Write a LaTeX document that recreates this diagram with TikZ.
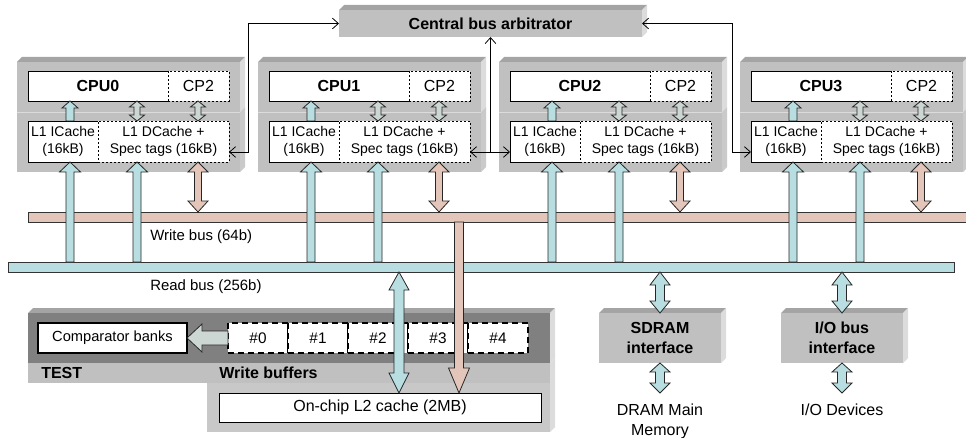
\documentclass[tikz,border=0pt]{standalone}
\usepackage{fontspec}
\setmainfont{Liberation Sans}
\usetikzlibrary{arrows.meta,calc}
\definecolor{rdc}{HTML}{B8DEE1}
\definecolor{wrc}{HTML}{E3C6B9}
\definecolor{gac}{HTML}{CCD6D2}
\definecolor{pnl}{HTML}{C0C0C0}
\definecolor{pnltop}{HTML}{A4A4A4}
\definecolor{pnlside}{HTML}{DCDCDC}
\definecolor{drk}{HTML}{808080}
\definecolor{pnlb}{HTML}{C8C8C8}

% box node from pixel corners: name, x0, y0, x1, y1, style, text
\newcommand\bx[7]{\node[#6,anchor=north west,inner sep=0pt,outer sep=0pt,
  minimum width={((#4)-(#2))*0.75pt},minimum height={((#5)-(#3))*0.75pt}] (#1) at (#2,#3) {#7};}
% 3d slab: name, x0, y0, x1, y1, fill, style, text
\newcommand\slab[8]{%
  \fill[pnltop] (#2,#3) -- (#2+5,#3-5) -- (#4+5,#3-5) -- (#4,#3) -- cycle;
  \fill[pnlside] (#4,#3) -- (#4+5,#3-5) -- (#4+5,#5-5) -- (#4,#5) -- cycle;
  \bx{#1}{#2}{#3}{#4}{#5}{fill=#6,#7}{#8}}
% vertical fat arrow: style, top point, bottom point, shaft half, top head half, top head len, bottom head half, bottom head len
\newcommand\fatv[8]{%
  \draw[#1] let \p1=#2, \p2=#3 in
   (\x1,\y1) -- (\x1+#5*0.75pt,\y1-#6*0.75pt) -- (\x1+#4*0.75pt,\y1-#6*0.75pt)
   -- (\x1+#4*0.75pt,\y2+#8*0.75pt) -- (\x1+#7*0.75pt,\y2+#8*0.75pt) -- (\x1,\y2)
   -- (\x1-#7*0.75pt,\y2+#8*0.75pt) -- (\x1-#4*0.75pt,\y2+#8*0.75pt)
   -- (\x1-#4*0.75pt,\y1-#6*0.75pt) -- (\x1-#5*0.75pt,\y1-#6*0.75pt) -- cycle;}

\begin{document}
\begin{tikzpicture}[x=0.75pt,y=-0.75pt,
  >={Straight Barb[length=4.5pt,width=8pt]},
  bigtxt/.style={font=\fontsize{12}{15}\selectfont},
  boldtxt/.style={font=\fontsize{12}{15}\selectfont\bfseries},
  cachetxt/.style={font=\fontsize{10.5}{12.75}\selectfont,align=center},
  busbar/.style={draw=black!80,line width=0.6pt},
  fatc/.style={fill=rdc,draw=black!85,line width=0.6pt},
  fatp/.style={fill=wrc,draw=black!85,line width=0.6pt},
  fatg/.style={fill=gac,draw=black!85,line width=0.6pt},
  thinbox/.style={fill=white,line width=0.6pt},
  dashbox/.style={fill=white,draw,line width=0.6pt,dash pattern=on 1.5pt off 1.5pt},
  wire/.style={line width=0.6pt}]
\useasboundingbox (0,0) rectangle (966,438);

% ---------- central arbitrator ----------
\slab{arb}{339}{10}{642}{37}{pnl}{boldtxt}{Central bus arbitrator}

% ---------- CPU clusters ----------
\foreach \i/\L in {0/17,1/258,2/499,3/740}{
  \fill[pnltop] (\L,62) -- (\L+5,57) -- (\L+228,57) -- (\L+223,62) -- cycle;
  \fill[pnlside] (\L+223,62) -- (\L+228,57) -- (\L+228,107) -- (\L+223,112) -- cycle;
  \fill[pnlside!92!black] (\L+223,112) -- (\L+228,107) -- (\L+228,167) -- (\L+223,172) -- cycle;
  \bx{cpup\i}{\L}{62}{\L+223}{172}{fill=pnl}{}
  \draw[pnlside,line width=0.6pt] (\L,112) -- (\L+223,112);
  \bx{cpu\i}{\L+11}{71}{\L+151}{101}{thinbox,boldtxt}{CPU\i}
  \draw[line width=0.6pt] (cpu\i.north east) -- (cpu\i.north west) -- (cpu\i.south west) -- (cpu\i.south east);
  \bx{cp\i}{\L+151}{71}{\L+212}{101}{dashbox,bigtxt}{CP2}
  \bx{ic\i}{\L+11}{121}{\L+81}{162}{thinbox,cachetxt}{L1 ICache\\(16kB)}
  \draw[line width=0.6pt] (ic\i.north east) -- (ic\i.north west) -- (ic\i.south west) -- (ic\i.south east);
  \bx{dc\i}{\L+81}{121}{\L+212}{162}{dashbox,cachetxt}{L1 DCache +\\Spec tags (16kB)}
  \coordinate (ia\i) at ($(ic\i.south west)+(42,0)$);
  \coordinate (da\i) at ($(dc\i.south west)+(39,0)$);
  \coordinate (pa\i) at ($(dc\i.south west)+(100,0)$);
}

% ---------- write buffers / TEST / L2 ----------
\slab{wbp}{28}{313}{550}{363}{drk}{}{}
\fill[pnlside] (550,363) -- (555,358) -- (555,427) -- (550,432) -- cycle;
\bx{tests}{28}{363}{207}{383}{fill=pnl}{}
\bx{wbs}{207}{363}{550}{383}{fill=pnl}{}
\bx{l2p}{207}{383}{550}{432}{fill=pnlb}{}
\node[anchor=west,boldtxt,inner sep=0pt] (testlab) at (41,373) {TEST};
\node[anchor=west,boldtxt,inner sep=0pt] (wblab) at (219,373) {Write buffers};
\bx{cmp}{38}{323}{187}{353}{draw,fill=white,line width=1.3pt,font=\fontsize{11}{13}\selectfont}{Comparator banks}
\foreach \k/\xx in {0/228,1/288,2/348,3/408,4/468}{
  \bx{b\k}{\xx}{323}{\xx+60}{353}{draw,fill=white,line width=1.4pt,dash pattern=on 4.5pt off 3pt,font=\fontsize{11.5}{13}\selectfont}{\#\k}
}
\draw[fatg] let \p1=(cmp.east), \p2=(b0.west) in
  (\x1,\y1) -- (\x1+11.25pt,\y1+10.5pt) -- (\x1+11.25pt,\y1+5.25pt) -- (\x2,\y1+5.25pt)
  -- (\x2,\y1-5.25pt) -- (\x1+11.25pt,\y1-5.25pt) -- (\x1+11.25pt,\y1-10.5pt) -- cycle;
\bx{l2}{219}{393}{541}{422}{draw,fill=white,line width=0.6pt,bigtxt}{On-chip L2 cache (2MB)}

% ---------- SDRAM and I/O ----------
\slab{sdram}{599}{313}{721}{363}{pnl}{boldtxt,align=center}{SDRAM\\interface}
\slab{iob}{781}{313}{903}{363}{pnl}{boldtxt,align=center}{I/O bus\\interface}
\node[anchor=north,bigtxt,align=center,inner xsep=0pt,inner ysep=8pt] (dram) at (660,393) {DRAM Main\\Memory};
\node[anchor=north,bigtxt,align=center,inner xsep=0pt,inner ysep=8pt] (iodev) at (842,393) {I/O Devices};

% ---------- buses ----------
\bx{wbus}{28}{212}{968}{222}{busbar,fill=wrc}{}
\bx{rbus}{8}{262}{954}{272}{busbar,fill=rdc}{}
\node[anchor=west,inner sep=0pt,font=\fontsize{11.2}{13}\selectfont] (wlab) at (150,237) {Write bus (64b)};
\node[anchor=west,inner sep=0pt,font=\fontsize{11.2}{13}\selectfont] (rlab) at (150,287) {Read bus (256b)};

% ---------- fat arrows ----------
\foreach \i in {0,1,2,3}{
  \fatv{fatc}{(ia\i)}{(ia\i |- rbus.north)}{4}{10.5}{10}{4}{0}
  \fatv{fatc}{(da\i)}{(da\i |- rbus.north)}{4}{10.5}{10}{4}{0}
  \fatv{fatp}{(pa\i)}{(pa\i |- wbus.north)}{3.5}{10}{10}{10}{11}
  \fatv{fatc}{(ia\i |- cpu\i.south)}{(ia\i |- ic\i.north)}{4}{8}{7}{4}{0}
  \fatv{fatg}{(da\i |- cpu\i.south)}{(da\i |- dc\i.north)}{3}{7.5}{6}{7.5}{6}
  \fatv{fatg}{(pa\i |- cp\i.south)}{(pa\i |- dc\i.north)}{3}{7.5}{6}{7.5}{6}
}
\coordinate (wx) at (459,0);
\coordinate (rx) at (399,0);
\fatv{fatp}{(wx |- wbus.south)}{(wx |- l2.north)}{4.5}{4.5}{0}{10.5}{25}
\fatv{fatc}{(rx |- rbus.south)}{(rx |- l2.north)}{5}{10}{18}{10}{20}
\fatv{fatc}{(sdram.north |- rbus.south)}{(sdram.north)}{4.5}{10}{13}{10}{12}
\fatv{fatc}{(iob.north |- rbus.south)}{(iob.north)}{4.5}{10}{13}{10}{12}
\fatv{fatc}{(sdram.south)}{(dram.north)}{4.5}{10}{9}{10}{10}
\fatv{fatc}{(iob.south)}{(iodev.north)}{4.5}{10}{9}{10}{10}

% ---------- arbitration wires ----------
\coordinate (c0) at ($(dc0.south east)+(0,-10)$);
\coordinate (c1) at ($(dc1.south east)+(0,-10)$);
\coordinate (c2) at ($(ic2.south west)+(0,-10)$);
\coordinate (c3) at ($(ic3.south west)+(0,-10)$);
\coordinate (jn) at (arb.south |- c1);
\draw[wire,<->] (c0) -- ++(19,0) |- (arb.west);
\draw[wire,<->] (c1) -- (c2);
\draw[wire,->] (jn) -- (arb.south);
\draw[wire,<->] (arb.east) -- ++(90,0) |- (c3);
\end{tikzpicture}
\end{document}
